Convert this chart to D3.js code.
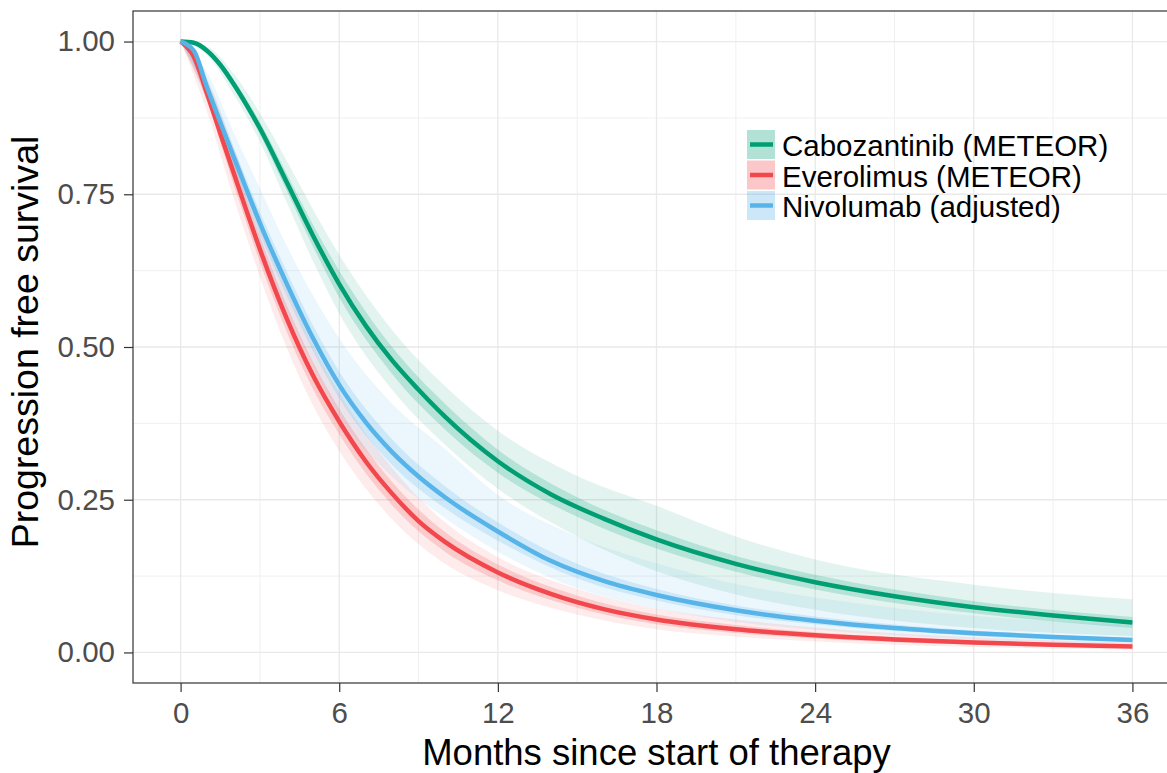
<!DOCTYPE html>
<html>
<head>
<meta charset="utf-8">
<script src="https://cdn.jsdelivr.net/npm/d3@7"></script>
<style>
  html, body { margin: 0; padding: 0; background: #fff; }
  svg { display: block; font-family: "Liberation Sans", Arial, sans-serif; }
</style>
</head>
<body>
<svg id="chart" width="1167" height="773"></svg>
<script>
// Months at which the survival curves are read
const months = [0, 0.5, 1, 1.5, 2, 2.5, 3, 4, 5, 6, 7, 8, 9, 10, 12, 14, 16, 18, 21, 24, 27, 30, 33, 36];

// Progression free survival estimates
const caboPFS = [1, 0.998, 0.985, 0.962, 0.931, 0.896, 0.858, 0.771, 0.683, 0.603, 0.535, 0.478, 0.430, 0.386, 0.313, 0.259, 0.219, 0.185, 0.145, 0.115, 0.092, 0.074, 0.0605, 0.049];
const everoPFS = [1, 0.975, 0.915, 0.850, 0.786, 0.722, 0.660, 0.548, 0.454, 0.378, 0.313, 0.260, 0.215, 0.181, 0.131, 0.096, 0.071, 0.054, 0.038, 0.028, 0.0212, 0.0163, 0.0125, 0.0097];
const nivoPFS = [1, 0.985, 0.925, 0.868, 0.812, 0.757, 0.703, 0.605, 0.515, 0.438, 0.377, 0.328, 0.288, 0.254, 0.198, 0.150, 0.117, 0.094, 0.069, 0.052, 0.040, 0.0315, 0.0252, 0.0203];

// Months at which the interval bands are read
const bandMonths = [0, 1, 2, 3, 4, 5, 6, 8, 10, 12, 15, 18, 21, 24, 30, 36];

// Inner (narrow) and outer (wide) intervals, lower and upper bounds
const caboInnerLo = [1, 0.982, 0.924, 0.848, 0.757, 0.665, 0.581, 0.456, 0.365, 0.294, 0.222, 0.170, 0.132, 0.103, 0.064, 0.040];
const caboInnerHi = [1, 0.988, 0.938, 0.868, 0.785, 0.701, 0.625, 0.500, 0.407, 0.332, 0.254, 0.200, 0.158, 0.127, 0.084, 0.058];
const caboOuterLo = [1, 0.978, 0.914, 0.836, 0.738, 0.641, 0.555, 0.430, 0.340, 0.268, 0.190, 0.133, 0.095, 0.070, 0.040, 0.027];
const caboOuterHi = [1, 0.992, 0.948, 0.883, 0.806, 0.726, 0.651, 0.528, 0.436, 0.363, 0.289, 0.240, 0.190, 0.152, 0.111, 0.087];

const everoInnerLo = [1, 0.902, 0.767, 0.639, 0.526, 0.432, 0.357, 0.241, 0.165, 0.118, 0.073, 0.046, 0.032, 0.023, 0.013, 0.0075];
const everoInnerHi = [1, 0.928, 0.805, 0.681, 0.570, 0.476, 0.399, 0.279, 0.197, 0.144, 0.093, 0.062, 0.045, 0.033, 0.020, 0.0125];
const everoOuterLo = [1, 0.885, 0.745, 0.615, 0.500, 0.405, 0.330, 0.218, 0.145, 0.102, 0.062, 0.038, 0.026, 0.018, 0.009, 0.005];
const everoOuterHi = [1, 0.940, 0.828, 0.708, 0.600, 0.504, 0.425, 0.302, 0.213, 0.156, 0.104, 0.072, 0.054, 0.041, 0.025, 0.016];

const nivoInnerLo = [1, 0.915, 0.797, 0.685, 0.585, 0.494, 0.416, 0.307, 0.236, 0.183, 0.121, 0.085, 0.061, 0.046, 0.027, 0.017];
const nivoInnerHi = [1, 0.935, 0.827, 0.721, 0.625, 0.536, 0.460, 0.349, 0.272, 0.213, 0.145, 0.104, 0.077, 0.059, 0.036, 0.024];
const nivoOuterLo = [1, 0.905, 0.777, 0.665, 0.560, 0.470, 0.388, 0.288, 0.220, 0.165, 0.105, 0.072, 0.050, 0.037, 0.021, 0.013];
const nivoOuterHi = [1, 0.950, 0.852, 0.760, 0.667, 0.585, 0.514, 0.407, 0.333, 0.258, 0.190, 0.146, 0.112, 0.090, 0.060, 0.045];

const seriesNames = ["Cabozantinib (METEOR)", "Everolimus (METEOR)", "Nivolumab (adjusted)"];
const seriesColors = ["#009E73", "#F2474D", "#56B4E9"];

const xTicks = [0, 6, 12, 18, 24, 30, 36];
const xMinor = [3, 9, 15, 21, 27, 33];
const yTicks = [0, 0.25, 0.5, 0.75, 1];
const yMinor = [0.125, 0.375, 0.625, 0.875];
const yTickLabels = ["0.00", "0.25", "0.50", "0.75", "1.00"];

const series = [
  { name: seriesNames[0], color: seriesColors[0], pfs: caboPFS,
    inner: [caboInnerLo, caboInnerHi], outer: [caboOuterLo, caboOuterHi] },
  { name: seriesNames[1], color: seriesColors[1], pfs: everoPFS,
    inner: [everoInnerLo, everoInnerHi], outer: [everoOuterLo, everoOuterHi] },
  { name: seriesNames[2], color: seriesColors[2], pfs: nivoPFS,
    inner: [nivoInnerLo, nivoInnerHi], outer: [nivoOuterLo, nivoOuterHi] }
];

const svg = d3.select("#chart");
const panel = { left: 133, top: 11, right: 1180, bottom: 683 };

// Scales with 5% expansion of the data range on each side
const x = d3.scaleLinear().domain([-1.8, 37.8]).range([panel.left, panel.right]);
const y = d3.scaleLinear().domain([-0.05, 1.05]).range([panel.bottom, panel.top]);

svg.append("defs").append("clipPath").attr("id", "panel-clip")
  .append("rect")
  .attr("x", panel.left).attr("y", panel.top)
  .attr("width", panel.right - panel.left).attr("height", panel.bottom - panel.top);

// Grid
const grid = svg.append("g").attr("clip-path", "url(#panel-clip)");
grid.selectAll(".xminor").data(xMinor).join("line")
  .attr("x1", d => x(d)).attr("x2", d => x(d))
  .attr("y1", panel.top).attr("y2", panel.bottom)
  .attr("stroke", "#f0f0f0").attr("stroke-width", 1);
grid.selectAll(".yminor").data(yMinor).join("line")
  .attr("y1", d => y(d)).attr("y2", d => y(d))
  .attr("x1", panel.left).attr("x2", panel.right)
  .attr("stroke", "#f0f0f0").attr("stroke-width", 1);
grid.selectAll(".xmajor").data(xTicks).join("line")
  .attr("x1", d => x(d)).attr("x2", d => x(d))
  .attr("y1", panel.top).attr("y2", panel.bottom)
  .attr("stroke", "#e9e9e9").attr("stroke-width", 1.3);
grid.selectAll(".ymajor").data(yTicks).join("line")
  .attr("y1", d => y(d)).attr("y2", d => y(d))
  .attr("x1", panel.left).attr("x2", panel.right)
  .attr("stroke", "#e9e9e9").attr("stroke-width", 1.3);

// Bands and curves
const plot = svg.append("g").attr("clip-path", "url(#panel-clip)");
const area = d3.area()
  .x(d => x(d.t)).y0(d => y(d.lo)).y1(d => y(d.hi))
  .curve(d3.curveMonotoneX);
const line = d3.line()
  .x(d => x(d.t)).y(d => y(d.s))
  .curve(d3.curveMonotoneX);

const bandRows = (lo, hi) => bandMonths.map((t, i) => ({ t, lo: lo[i], hi: hi[i] }));

series.forEach(s => {
  plot.append("path")
    .attr("d", area(bandRows(s.outer[0], s.outer[1])))
    .attr("fill", s.color).attr("fill-opacity", 0.11);
  plot.append("path")
    .attr("d", area(bandRows(s.inner[0], s.inner[1])))
    .attr("fill", s.color).attr("fill-opacity", 0.2);
});
series.forEach(s => {
  plot.append("path")
    .attr("d", line(months.map((t, i) => ({ t, s: s.pfs[i] }))))
    .attr("fill", "none").attr("stroke", s.color)
    .attr("stroke-width", 4.5).attr("stroke-linejoin", "round");
});

// Panel border
svg.append("rect")
  .attr("x", panel.left).attr("y", panel.top)
  .attr("width", panel.right - panel.left).attr("height", panel.bottom - panel.top)
  .attr("fill", "none").attr("stroke", "#333").attr("stroke-width", 1.2);

// Axes
const xAxis = d3.axisBottom(x).tickValues(xTicks).tickSize(9).tickPadding(10);
const gx = svg.append("g").attr("transform", `translate(0,${panel.bottom})`).call(xAxis);
gx.select(".domain").remove();
gx.selectAll(".tick line").attr("stroke", "#333").attr("stroke-width", 1.2);
gx.selectAll(".tick text").attr("fill", "#4d4d4d").attr("font-size", 29.5)
  .attr("font-family", "Liberation Sans, Arial, sans-serif");

const yAxis = d3.axisLeft(y).tickValues(yTicks).tickSize(9).tickPadding(9)
  .tickFormat((d, i) => yTickLabels[i]);
const gy = svg.append("g").attr("transform", `translate(${panel.left},0)`).call(yAxis);
gy.select(".domain").remove();
gy.selectAll(".tick line").attr("stroke", "#333").attr("stroke-width", 1.2);
gy.selectAll(".tick text").attr("fill", "#4d4d4d").attr("font-size", 29.5)
  .attr("font-family", "Liberation Sans, Arial, sans-serif");

// Axis titles
svg.append("text")
  .attr("x", (panel.left + panel.right) / 2).attr("y", 765)
  .attr("text-anchor", "middle").attr("font-size", 36.5).attr("fill", "#000")
  .text("Months since start of therapy");
svg.append("text")
  .attr("transform", `translate(38,${(panel.top + panel.bottom) / 2 - 5}) rotate(-90)`)
  .attr("text-anchor", "middle").attr("font-size", 37.5).attr("fill", "#000")
  .text("Progression free survival");

// Legend
const legend = svg.append("g").attr("transform", "translate(747,130)");
const keyH = 30.5;
series.forEach((s, i) => {
  const g = legend.append("g").attr("transform", `translate(0,${i * keyH})`);
  g.append("rect").attr("x", 0).attr("y", 0).attr("width", 28).attr("height", keyH - 1.5)
    .attr("fill", s.color).attr("fill-opacity", 0.3);
  g.append("line").attr("x1", 3).attr("x2", 26)
    .attr("y1", (keyH - 1.5) / 2).attr("y2", (keyH - 1.5) / 2)
    .attr("stroke", s.color).attr("stroke-width", 4.5);
  g.append("text").attr("x", 35).attr("y", (keyH - 1.5) / 2 + 11.5)
    .attr("font-size", 29.5).attr("fill", "#000").text(s.name);
});
</script>
</body>
</html>
